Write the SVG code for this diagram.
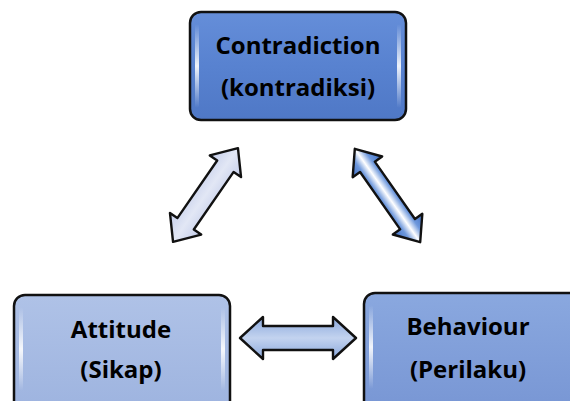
<svg xmlns="http://www.w3.org/2000/svg" width="570" height="401" viewBox="0 0 570 401">
<defs>
<linearGradient id="gTop" x1="0" y1="0" x2="0" y2="1"><stop offset="0" stop-color="#658ed9"/><stop offset="0.5" stop-color="#5882d0"/><stop offset="1" stop-color="#4f78c6"/></linearGradient>
<linearGradient id="gAtt" x1="0" y1="0" x2="0" y2="1"><stop offset="0" stop-color="#afc2e7"/><stop offset="1" stop-color="#9db3df"/></linearGradient>
<linearGradient id="gBeh" x1="0" y1="0" x2="0" y2="1"><stop offset="0" stop-color="#8aa8df"/><stop offset="1" stop-color="#7896d4"/></linearGradient>
<linearGradient id="gEdge" x1="0" y1="0" x2="0" y2="1"><stop offset="0" stop-color="#fff" stop-opacity="0"/><stop offset="0.5" stop-color="#fff" stop-opacity="0.9"/><stop offset="1" stop-color="#fff" stop-opacity="0"/></linearGradient>
<linearGradient id="gArrL" x1="0" y1="0" x2="0" y2="1"><stop offset="0" stop-color="#c4cdea"/><stop offset="0.5" stop-color="#e2e7f5"/><stop offset="1" stop-color="#c4cdea"/></linearGradient>
<linearGradient id="gArrR" x1="0" y1="0" x2="0" y2="1"><stop offset="0" stop-color="#3f6fc4"/><stop offset="0.3" stop-color="#6e98dc"/><stop offset="0.5" stop-color="#ffffff"/><stop offset="0.7" stop-color="#6e98dc"/><stop offset="1" stop-color="#3f6fc4"/></linearGradient>
<linearGradient id="gArrH" x1="0" y1="0" x2="0" y2="1"><stop offset="0" stop-color="#8aa8dc"/><stop offset="0.5" stop-color="#c3d3ef"/><stop offset="1" stop-color="#8aa8dc"/></linearGradient>
<style>
.box{stroke:#111;stroke-width:2.5}
.lbl{font-family:"Open Sans","Liberation Sans",sans-serif;font-weight:bold;font-size:24px;fill:#000;text-anchor:middle}
.edge{fill:url(#gEdge)}
.arr{stroke:#111;stroke-width:2.4;stroke-linejoin:round}
</style>
</defs>

<g id="connectors">
<path class="arr" fill="url(#gArrL)" transform="translate(205.5,195) rotate(-55.3)" d="M -57 0 L -35 -19 L -35 -10 L 35 -10 L 35 -19 L 57 0 L 35 19 L 35 10 L -35 10 L -35 19 Z"/>
<path class="arr" fill="url(#gArrR)" transform="translate(387.5,195.5) rotate(55)" d="M -57 0 L -35 -18 L -35 -9 L 35 -9 L 35 -18 L 57 0 L 35 18 L 35 9 L -35 9 L -35 18 Z"/>
<path class="arr" fill="url(#gArrH)" transform="translate(298,338)" d="M -58 0 L -35 -21 L -35 -12 L 35 -12 L 35 -21 L 58 0 L 35 21 L 35 12 L -35 12 L -35 21 Z"/>
</g>

<g id="contradiction">
<rect class="box" x="190" y="12" width="216" height="108" rx="11" fill="url(#gTop)"/>
<rect class="edge" x="195" y="24" width="4" height="84" rx="2"/>
<rect class="edge" x="397" y="24" width="4" height="84" rx="2"/>
<text class="lbl" x="298" y="54">Contradiction</text>
<text class="lbl" x="298" y="96">(kontradiksi)</text>
</g>

<g id="attitude">
<rect class="box" x="14" y="295" width="216" height="120" rx="11" fill="url(#gAtt)"/>
<rect class="edge" x="19" y="307" width="4" height="84" rx="2"/>
<rect class="edge" x="221" y="307" width="4" height="84" rx="2"/>
<text class="lbl" x="121" y="338">Attitude</text>
<text class="lbl" x="121" y="378">(Sikap)</text>
</g>

<g id="behaviour">
<rect class="box" x="364" y="293" width="216" height="120" rx="11" fill="url(#gBeh)"/>
<rect class="edge" x="369" y="305" width="4" height="84" rx="2"/>
<text class="lbl" x="468" y="335">Behaviour</text>
<text class="lbl" x="468" y="378">(Perilaku)</text>
</g>
</svg>
